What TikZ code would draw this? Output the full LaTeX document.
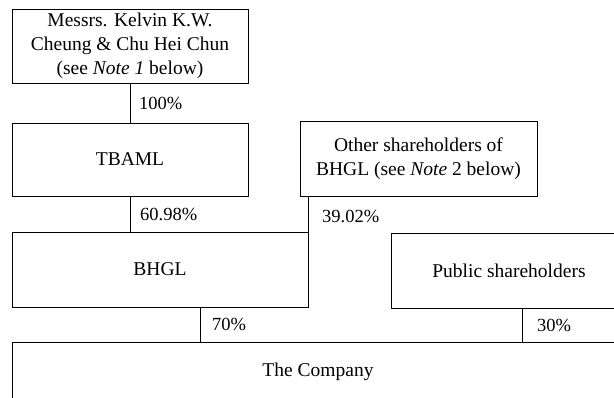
\documentclass[tikz,border=0pt]{standalone}
\usepackage{fontspec}
\setmainfont{Liberation Serif}
\begin{document}
\begin{tikzpicture}[x=1pt,y=-1pt,
  box/.style={draw, line width=0.8pt, inner sep=0pt, align=center,
    font=\fontsize{19.5}{24}\selectfont},
  pct/.style={anchor=west, inner sep=0pt, font=\fontsize{18.5}{22}\selectfont},
  link/.style={line width=0.8pt}]
\useasboundingbox (0,0) rectangle (614,398);
\clip (0,0) rectangle (614,398);
\node[box, minimum width=236pt, minimum height=74pt] (top) at (130,46)
  {Messrs. Kelvin K.W.\\Cheung \& Chu Hei Chun\\(see \textit{Note 1} below)};
\node[box, minimum width=236pt, minimum height=73pt] (tbaml) at (130,159.5) {TBAML};
\node[box, minimum width=237pt, minimum height=75pt] (other) at (418.5,158.5)
  {Other shareholders of\\BHGL (see \textit{Note} 2 below)};
\node[box, minimum width=296pt, minimum height=75pt] (bhgl) at (160,269.5) {BHGL};
\node[box, minimum width=236pt, minimum height=75pt] (public) at (509,270.5) {Public shareholders};
\node[box, minimum width=612pt, minimum height=60pt] (company) at (318,372) {The Company};

\draw[link] (top.south) -- (tbaml.north);
\draw[link] (tbaml.south) -- (tbaml.south |- bhgl.north);
\draw[link] (bhgl.north east |- other.south) -- (bhgl.north east);
\coordinate (b1) at ([xshift=40.7pt]bhgl.south);
\draw[link] (b1) -- (b1 |- company.north);
\coordinate (p1) at ([xshift=13pt]public.south);
\draw[link] (p1) -- (p1 |- company.north);

\node[pct] (l100) at (139,103) {100\%};
\node[pct] (l6098) at (140,214.5) {60.98\%};
\node[pct] (l3902) at (322,216) {39.02\%};
\node[pct] (l70) at (212,324.5) {70\%};
\node[pct] (l30) at (537,325) {30\%};
\end{tikzpicture}
\end{document}
